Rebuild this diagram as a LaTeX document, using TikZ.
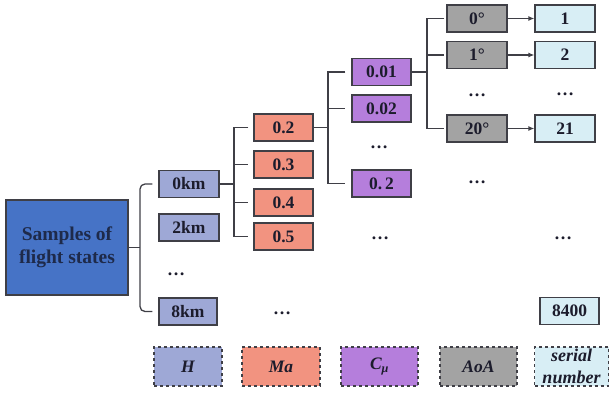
\documentclass[tikz,border=0pt]{standalone}
\usepackage{fontspec}
\setmainfont{Liberation Serif}
\usetikzlibrary{arrows.meta}
\definecolor{cS}{HTML}{4673C6}
\definecolor{cH}{HTML}{9EA8D6}
\definecolor{cM}{HTML}{F29380}
\definecolor{cC}{HTML}{B57EDC}
\definecolor{cA}{HTML}{A3A3A3}
\definecolor{cN}{HTML}{D8EEF5}
\definecolor{edge}{HTML}{3F3F46}
\definecolor{txt}{HTML}{1C1C2C}
\definecolor{navy}{HTML}{1E2A4A}
\tikzset{
  bx/.style={draw=edge, line width=1.2pt, minimum width=60pt, minimum height=27pt,
    inner sep=0pt, text=txt, font=\bfseries\fontsize{17.5}{18}\selectfont},
  dotsn/.style={inner sep=0pt, text=txt, font=\bfseries\fontsize{18}{18}\selectfont},
  leg/.style={draw=edge, dashed, line width=1.1pt, minimum height=39pt, inner sep=0pt,
    text=txt, font=\bfseries\itshape\fontsize{17.5}{17}\selectfont, align=center},
  ln/.style={draw=edge, line width=1.3pt},
  arr/.style={ln, -{Latex[length=6pt,width=5pt]}}
}
\begin{document}
\begin{tikzpicture}[x=1pt,y=-1pt]
\useasboundingbox (0,0) rectangle (610,394);
% root
\node[draw=edge, line width=1.2pt, fill=cS, minimum width=122pt, minimum height=95pt,
  inner sep=0pt, text=navy, align=center, font=\bfseries\fontsize{19.5}{23}\selectfont]
  (S) at (67,247.5) {Samples of\\flight states};
% H column
\node[bx, fill=cH] (H0) at (189,184) {0km};
\node[bx, fill=cH] (H2) at (189,227.5) {2km};
\node[dotsn] (Hd) at (176,274) {…};
\node[bx, fill=cH, minimum width=58pt] (H8) at (188,311.5) {8km};
% Ma column
\node[bx, fill=cM, minimum width=59pt] (M2) at (283.5,127.5) {0.2};
\node[bx, fill=cM, minimum width=59pt] (M3) at (283.5,164.5) {0.3};
\node[bx, fill=cM, minimum width=59pt] (M4) at (283.5,202.5) {0.4};
\node[bx, fill=cM, minimum width=59pt] (M5) at (283.5,236.5) {0.5};
\node[dotsn] (Md) at (282,313) {…};
% C column
\node[bx, fill=cC, minimum width=59pt] (C1) at (381.5,72) {0.01};
\node[bx, fill=cC, minimum width=59pt] (C2) at (381.5,108.5) {0.02};
\node[dotsn] (Cd) at (379,147) {…};
\node[bx, fill=cC, minimum width=59pt] (C3) at (381.5,183.5) {0.\,2};
\node[dotsn] (Cd2) at (380,238) {…};
% AoA column
\node[bx, fill=cA] (A1) at (477,18.5) {0°};
\node[bx, fill=cA] (A2) at (477,55) {1°};
\node[dotsn] (Ad) at (477,95) {…};
\node[bx, fill=cA] (A3) at (477,128.5) {20°};
\node[dotsn] (Ad2) at (477,182) {…};
% serial column
\node[bx, fill=cN] (N1) at (565,18.5) {1};
\node[bx, fill=cN] (N2) at (565,55) {2};
\node[dotsn] (Nd) at (565,94) {…};
\node[bx, fill=cN] (N3) at (565,128.5) {21};
\node[dotsn] (Nd2) at (563,238) {…};
\node[bx, fill=cN, minimum width=59pt] (N4) at (569.5,311) {8400};
% legend
\node[leg, fill=cH, minimum width=68pt] (LH) at (188,366.5) {H};
\node[leg, fill=cM, minimum width=78pt] (LM) at (281,366.5) {Ma};
\node[leg, fill=cC, minimum width=77pt] (LC) at (379.5,366.5) {C\textsubscript{μ}};
\node[leg, fill=cA, minimum width=77pt] (LA) at (478.5,366.5) {AoA};
\node[leg, fill=cN, minimum width=74pt, font=\bfseries\itshape\fontsize{18}{22}\selectfont] (LN) at (571.5,366.5) {serial\\number};
% connectors
\coordinate (j0) at (140,247.5);
\draw[ln] (S.east) -- (j0);
\draw[ln, rounded corners=5pt] ([xshift=-6pt]H0.west) -| (j0) |- ([xshift=-6pt]H8.west);
\coordinate (j1) at (234,184);
\draw[ln] (H0.east) -- (j1);
\draw[ln] ([xshift=-5pt]M2.west) -| (j1) |- ([xshift=-5pt]M5.west);
\draw[ln] (j1 |- M3) -- ([xshift=-5pt]M3.west);
\draw[ln] (j1 |- M4) -- ([xshift=-5pt]M4.west);
\coordinate (j2) at (328,127.5);
\draw[ln] (M2.east) -- (j2);
\draw[ln] ([xshift=-6pt]C1.west) -| (j2) |- ([xshift=-6pt]C3.west);
\draw[ln] (j2 |- C2) -- ([xshift=-6pt]C2.west);
\coordinate (j3) at (427,72);
\draw[ln] (C1.east) -- (j3);
\draw[ln] ([xshift=-2pt]A1.west) -| (j3) |- ([xshift=-2pt]A3.west);
\draw[ln] (j3 |- A2) -- ([xshift=-2pt]A2.west);
\draw[arr] (A1.east) -- (N1.west);
\draw[arr] (A2.east) -- (N2.west);
\draw[arr] (A3.east) -- (N3.west);
\end{tikzpicture}
\end{document}
